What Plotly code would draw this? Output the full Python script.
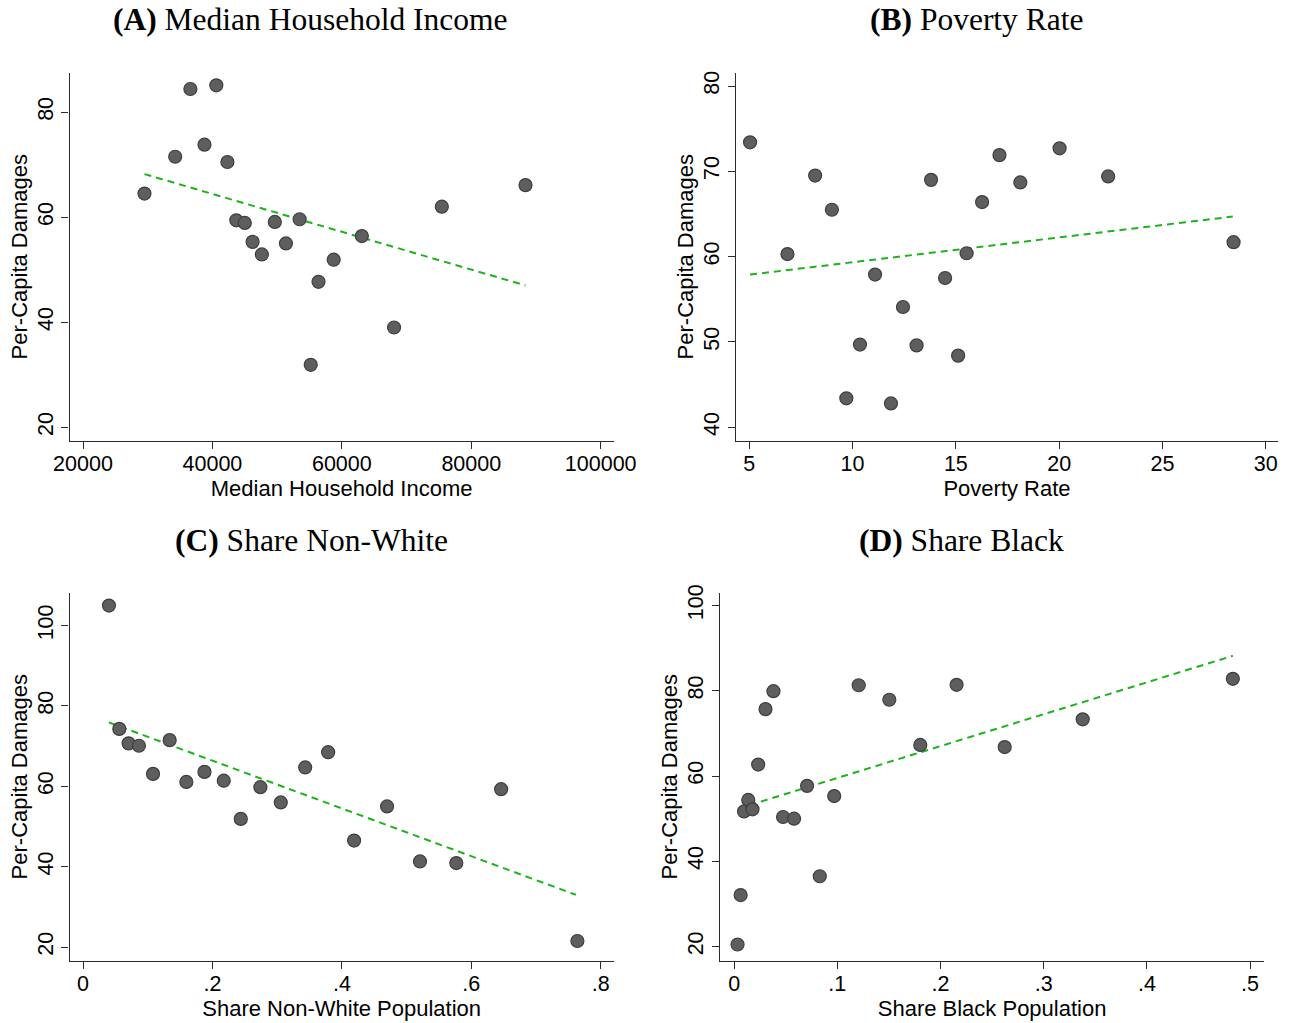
import plotly.graph_objects as go

# ---------------- data ----------------
income = [29499, 34249, 36595, 38770, 40601, 42318, 43691, 45007, 46209, 47639,
          49642, 51359, 53476, 55193, 56395, 58741, 63090, 68069, 75451, 88383]
income_dmg = [64.5, 71.5, 84.4, 73.8, 85.1, 70.5, 59.4, 58.9, 55.3, 52.9,
              59.1, 55.0, 59.6, 31.9, 47.7, 51.9, 56.4, 39.0, 62.0, 66.1]
income_fit_x = [29499, 88383]
income_fit_y = [68.2, 47.0]

poverty = [5.04, 6.85, 8.19, 9.0, 9.70, 10.36, 11.09, 11.86, 12.44, 13.10,
           13.80, 14.48, 15.11, 15.52, 16.27, 17.11, 18.12, 20.02, 22.37, 28.44]
poverty_dmg = [73.4, 60.3, 69.5, 65.5, 43.4, 49.7, 57.9, 42.8, 54.1, 49.6,
               69.0, 57.5, 48.4, 60.4, 66.4, 71.9, 68.7, 72.7, 69.4, 61.7]
poverty_fit_x = [5.04, 28.40]
poverty_fit_y = [57.9, 64.7]

nonwhite = [0.0401, 0.0561, 0.0704, 0.0864, 0.1082, 0.1339, 0.1597, 0.1877, 0.2175, 0.2438,
            0.2741, 0.3056, 0.3433, 0.3788, 0.4189, 0.4698, 0.5207, 0.5768, 0.6461, 0.7639]
nonwhite_dmg = [105.0, 74.3, 70.7, 70.1, 63.1, 71.5, 61.1, 63.6, 61.4, 51.9,
                59.8, 56.0, 64.7, 68.5, 46.5, 55.0, 41.3, 40.9, 59.3, 21.5]
nonwhite_fit_x = [0.0401, 0.7616]
nonwhite_fit_y = [75.9, 33.0]

black = [0.0033, 0.0063, 0.0096, 0.0137, 0.0178, 0.0233, 0.0304, 0.0381, 0.0474, 0.0581,
         0.0707, 0.0830, 0.0970, 0.1207, 0.1504, 0.1804, 0.2156, 0.2622, 0.3378, 0.4833]
black_dmg = [20.5, 32.1, 51.7, 54.4, 52.2, 62.7, 75.7, 79.9, 50.4, 50.0,
             57.7, 36.5, 55.3, 81.3, 77.9, 67.3, 81.4, 66.8, 73.3, 82.8]
black_fit_x = [0.0037, 0.4833]
black_fit_y = [52.35, 88.2]

income_ticks = [20000, 40000, 60000, 80000, 100000]
income_ticktext = ["20000", "40000", "60000", "80000", "100000"]
poverty_ticks = [5, 10, 15, 20, 25, 30]
nonwhite_ticks = [0, 0.2, 0.4, 0.6, 0.8]
nonwhite_ticktext = ["0", ".2", ".4", ".6", ".8"]
black_ticks = [0, 0.1, 0.2, 0.3, 0.4, 0.5]
black_ticktext = ["0", ".1", ".2", ".3", ".4", ".5"]
dmg_ticks_a = [20, 40, 60, 80]
dmg_ticks_b = [40, 50, 60, 70, 80]
dmg_ticks_cd = [20, 40, 60, 80, 100]

panel_titles = ["<b>(A)</b> Median Household Income", "<b>(B)</b> Poverty Rate",
                "<b>(C)</b> Share Non-White", "<b>(D)</b> Share Black"]
x_titles = ["Median Household Income", "Poverty Rate",
            "Share Non-White Population", "Share Black Population"]
y_title = "Per-Capita Damages"

# ---------------- figure ----------------
W, H = 1290, 1023
FONT = "Liberation Sans, Arial, Helvetica, sans-serif"
AX = "#2b2b2b"
MARK = "#5e5e5e"
MARK_LINE = "#3f3f3f"
GREEN = "#1db31d"

fig = go.Figure()

panels = [
    (income, income_dmg, income_fit_x, income_fit_y),
    (poverty, poverty_dmg, poverty_fit_x, poverty_fit_y),
    (nonwhite, nonwhite_dmg, nonwhite_fit_x, nonwhite_fit_y),
    (black, black_dmg, black_fit_x, black_fit_y),
]

for i, (xv, yv, fx, fy) in enumerate(panels):
    suffix = "" if i == 0 else str(i + 1)
    fig.add_trace(go.Scatter(x=fx, y=fy, mode="lines",
                             line=dict(color=GREEN, width=2, dash="7px,5px"),
                             xaxis="x" + suffix, yaxis="y" + suffix,
                             showlegend=False, hoverinfo="skip"))
    fig.add_trace(go.Scatter(x=xv, y=yv, mode="markers",
                             marker=dict(size=13, color=MARK,
                                         line=dict(color=MARK_LINE, width=1.2)),
                             xaxis="x" + suffix, yaxis="y" + suffix,
                             showlegend=False))

# domains in pixel coordinates
def px_x(a, b):
    return [a / W, b / W]

def px_y(top, bottom):
    return [1 - bottom / H, 1 - top / H]

domains = [
    (px_x(69.6, 613.7), px_y(72.7, 440.7)),
    (px_x(736.0, 1278.0), px_y(72.7, 440.7)),
    (px_x(69.6, 613.7), px_y(592.7, 960.7)),
    (px_x(720.2, 1264.0), px_y(592.7, 960.7)),
]
xranges = [[17930, 102010], [4.36, 30.59], [-0.0207, 0.820], [-0.0135, 0.5135]]
yranges = [[17.45, 87.5], [38.43, 81.56], [16.6, 108.2], [16.7, 103.0]]
xticks = [(income_ticks, income_ticktext), (poverty_ticks, [str(v) for v in poverty_ticks]),
          (nonwhite_ticks, nonwhite_ticktext), (black_ticks, black_ticktext)]
yticks = [dmg_ticks_a, dmg_ticks_b, dmg_ticks_cd, dmg_ticks_cd]

axis_common = dict(showgrid=False, zeroline=False, showline=True, linecolor=AX,
                   linewidth=1.3, ticks="outside", ticklen=7, tickwidth=1.3,
                   tickcolor=AX, tickfont=dict(family=FONT, size=21.5, color="black"),
                   mirror=False, automargin=False)

layout = {}
for i in range(4):
    suffix = "" if i == 0 else str(i + 1)
    xd, yd = domains[i]
    layout["xaxis" + suffix] = dict(
        axis_common, domain=xd, range=xranges[i], anchor="y" + suffix,
        tickvals=xticks[i][0], ticktext=xticks[i][1], ticklabelstandoff=-4,
        title=dict(text=x_titles[i], font=dict(family=FONT, size=22, color="black"),
                   standoff=1))
    layout["yaxis" + suffix] = dict(
        axis_common, domain=yd, range=yranges[i], anchor="x" + suffix,
        tickvals=yticks[i], ticktext=[str(v) for v in yticks[i]], tickangle=-90,
        title=dict(text=y_title, font=dict(family=FONT, size=22, color="black"),
                   standoff=0))

fig.update_layout(**layout)

title_pos = [(310, 20), (976, 20), (311, 540), (961, 540)]
for t, (cx, cy) in zip(panel_titles, title_pos):
    fig.add_annotation(text=t, x=cx / W, y=1 - cy / H, xref="paper", yref="paper",
                       xanchor="center", yanchor="middle", showarrow=False,
                       font=dict(family="Liberation Serif, Times New Roman, serif",
                                 size=31.5, color="black"))

fig.update_layout(width=W, height=H, margin=dict(l=0, r=0, t=0, b=0),
                  paper_bgcolor="white", plot_bgcolor="white", showlegend=False)

fig.write_html("out.html", include_plotlyjs=True, config={"displayModeBar": False},
               post_script="document.body.style.margin='0px';document.body.style.padding='0px';")
